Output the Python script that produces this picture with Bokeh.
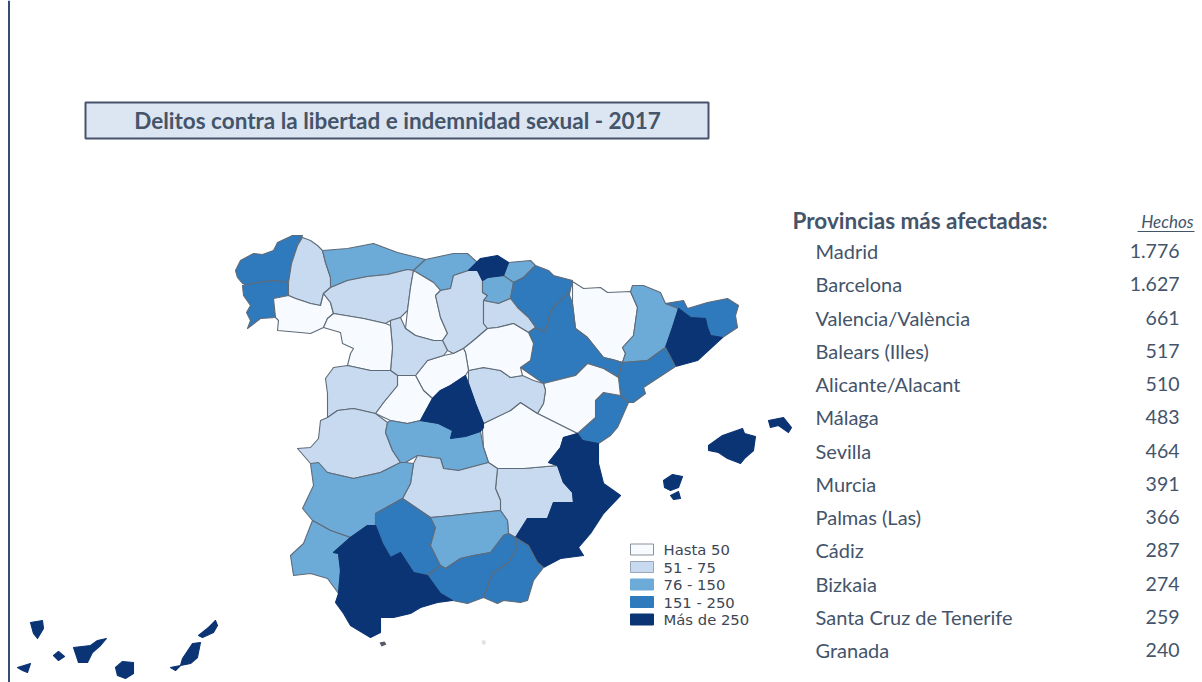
from bokeh.core.properties import value
from bokeh.embed import file_html
from bokeh.models import ColumnDataSource, Range1d
from bokeh.plotting import figure
from bokeh.resources import INLINE

TITLE = "Delitos contra la libertad e indemnidad sexual - 2017"
TABLE_HEAD = "Provincias más afectadas:"
VALUE_HEAD = "Hechos"
table_names = ["Madrid", "Barcelona", "Valencia/València", "Balears (Illes)", "Alicante/Alacant", "Málaga", "Sevilla",
               "Murcia", "Palmas (Las)", "Cádiz", "Bizkaia", "Santa Cruz de Tenerife", "Granada"]
table_values = ["1.776", "1.627", "661", "517", "510", "483", "464", "391", "366", "287", "274", "259", "240"]
legend_labels = ["Hasta 50", "51 - 75", "76 - 150", "151 - 250", "Más de 250"]
class_colors = ["#f7fbff", "#c8daef", "#6caad8", "#2f79bd", "#0b3474"]

# Province outlines in map units
A_CORUNA = [(235,270),(240,260),(253,253),(262,254),(273,250),(277,242),(292,235),(302,235),(297,245),(291,263),(288,282),(273,280),(257,282),(247,285),(242,283),(237,277)]
PONTEVEDRA = [(242,285),(257,282),(273,280),(288,282),(288,295),(273,298),(275,317),(260,318),(247,328),(250,320),(246,312),(250,305),(243,295)]
LUGO = [(302,237),(310,240),(317,245),(322,250),(325,262),(330,277),(330,287),(323,293),(320,305),(310,303),(295,298),(288,295),(288,282),(291,263),(297,245)]
OURENSE = [(273,298),(288,295),(295,298),(310,303),(320,305),(323,293),(330,302),(333,313),(327,318),(323,327),(310,333),(300,332),(277,330),(278,320),(275,317)]
ASTURIAS = [(322,250),(347,248),(373,243),(397,252),(425,259),(413,270),(407,269),(387,274),(367,276),(347,280),(330,287),(330,277),(325,262)]
CANTABRIA = [(425,259),(453,253),(467,253),(477,262),(468,270),(453,275),(450,288),(440,290),(433,282),(413,270)]
LEON = [(330,287),(347,280),(367,276),(387,274),(407,269),(413,270),(410,287),(407,310),(400,317),(390,320),(385,323),(363,318),(333,313),(330,302),(323,293)]
PALENCIA = [(413,270),(433,282),(440,290),(435,295),(440,317),(447,333),(442,340),(433,340),(415,335),(405,328),(407,310),(410,287)]
BURGOS = [(440,290),(450,288),(453,275),(468,270),(477,270),(482,280),(482,292),(487,295),(483,300),(483,323),(487,328),(473,340),(463,348),(453,353),(447,350),(442,340),(447,333),(440,317),(435,295)]
BIZKAIA = [(468,270),(480,258),(497,255),(508,262),(503,275),(487,277),(482,280),(477,270)]
GIPUZKOA = [(508,262),(530,260),(535,265),(523,277),(513,282),(503,275)]
ALAVA = [(482,280),(487,277),(503,275),(513,282),(510,298),(498,303),(483,300),(487,295),(482,292)]
NAVARRA = [(535,265),(548,270),(553,275),(572,280),(568,298),(550,310),(545,332),(535,327),(528,317),(517,307),(510,298),(513,282),(523,277)]
LA_RIOJA = [(483,300),(498,303),(510,298),(517,307),(528,317),(535,327),(528,332),(513,323),(497,327),(487,328),(483,323)]
ZARAGOZA = [(568,292),(572,303),(575,328),(587,337),(603,357),(612,359),(622,362),(618,377),(603,368),(587,363),(575,375),(543,383),(520,367),(530,360),(533,343),(528,332),(535,327),(545,332),(550,310)]
HUESCA = [(572,281),(583,288),(600,287),(607,292),(630,291),(637,307),(633,335),(622,347),(625,353),(622,362),(612,359),(603,357),(587,337),(575,328),(572,303)]
LLEIDA = [(632,285),(643,285),(660,292),(665,303),(678,308),(672,327),(665,347),(647,360),(622,362),(625,353),(622,347),(633,335),(637,307),(630,291)]
GIRONA = [(665,303),(683,300),(687,308),(707,302),(727,298),(738,305),(735,315),(737,327),(722,337),(710,335),(707,327),(705,318),(690,317),(678,308)]
BARCELONA = [(678,308),(690,317),(705,318),(707,327),(710,335),(722,337),(697,360),(675,366),(665,347),(672,327)]
TARRAGONA = [(665,347),(675,366),(643,387),(645,393),(633,402),(628,402),(620,395),(618,377),(622,362),(647,360)]
CASTELLON = [(603,392),(620,395),(628,402),(617,427),(610,435),(598,443),(582,440),(577,433),(595,417),(595,400)]
TERUEL = [(543,383),(575,375),(587,363),(603,368),(618,377),(620,395),(603,392),(595,400),(595,417),(577,433),(557,423),(537,413),(543,403),(545,390)]
VALENCIA = [(577,433),(582,440),(598,443),(598,463),(603,483),(613,490),(590,497),(573,502),(572,492),(563,482),(557,465),(548,462),(560,447),(563,437)]
ALICANTE = [(613,490),(620,495),(603,513),(590,533),(578,547),(570,530),(568,513),(573,502),(590,497)]
MURCIA = [(573,502),(568,513),(570,530),(578,547),(583,555),(560,558),(543,567),(537,562),(528,545),(515,537),(527,518),(547,518),(553,502)]
ALBACETE = [(497,468),(523,468),(557,465),(563,482),(572,492),(573,502),(553,502),(547,518),(527,518),(515,537),(508,533),(507,520),(500,510),(500,500),(495,488)]
CUENCA = [(482,430),(483,423),(510,410),(520,402),(537,413),(557,423),(577,433),(563,437),(560,447),(548,462),(557,465),(523,468),(497,468),(488,462),(483,447)]
GUADALAJARA = [(468,370),(483,367),(500,370),(510,377),(522,375),(533,380),(543,383),(545,390),(543,403),(537,413),(520,402),(510,410),(483,423),(475,403),(468,383)]
SORIA = [(465,352),(463,348),(473,340),(487,328),(497,327),(513,323),(528,332),(533,343),(530,360),(520,367),(522,375),(510,377),(500,370),(483,367),(468,370)]
SEGOVIA = [(415,375),(427,360),(443,355),(453,353),(463,348),(465,352),(468,370),(465,375),(450,385),(440,390),(432,398),(423,390)]
MADRID = [(465,375),(468,383),(475,403),(483,423),(483,427),(480,431),(465,436),(450,438),(452,430),(438,423),(420,420),(432,398),(440,390),(450,385)]
AVILA = [(397,375),(415,375),(423,390),(432,398),(420,420),(407,423),(390,420),(375,413),(383,402),(397,385)]
VALLADOLID = [(390,320),(400,317),(405,328),(415,335),(433,340),(442,340),(447,350),(443,355),(427,360),(415,375),(397,375),(390,370),(392,347),(390,325)]
ZAMORA = [(327,318),(333,313),(363,318),(385,323),(390,325),(392,347),(390,370),(370,370),(347,365),(350,353),(353,348),(342,343),(340,332),(323,327)]
SALAMANCA = [(333,367),(347,365),(370,370),(390,370),(397,375),(397,385),(383,402),(375,413),(353,408),(337,410),(327,417),(327,393),(325,378)]
CACERES = [(320,420),(327,417),(337,410),(353,408),(375,413),(387,422),(385,432),(392,450),(400,462),(380,472),(353,478),(327,472),(310,463),(297,448),(310,447),(318,438)]
TOLEDO = [(387,422),(390,420),(407,423),(420,420),(438,423),(452,430),(480,431),(483,447),(488,462),(458,470),(443,468),(440,458),(417,455),(405,462),(400,462),(392,450),(385,432)]
CIUDAD_REAL = [(413,463),(417,455),(440,458),(443,468),(458,470),(488,462),(497,468),(495,488),(500,500),(500,510),(470,513),(452,515),(430,517),(402,498),(410,483)]
BADAJOZ = [(310,463),(318,462),(327,472),(353,478),(380,472),(400,462),(405,462),(413,463),(410,483),(402,498),(375,513),(375,525),(367,525),(350,537),(330,530),(312,520),(302,508),(313,485)]
CORDOBA = [(402,498),(430,517),(435,527),(430,545),(440,565),(427,575),(413,572),(400,552),(390,557),(382,543),(375,525),(375,513)]
JAEN = [(430,517),(452,515),(470,513),(500,510),(507,520),(508,533),(503,535),(490,552),(473,555),(460,558),(445,568),(440,565),(430,545),(435,527)]
GRANADA = [(503,535),(508,533),(515,537),(517,547),(508,562),(492,573),(483,597),(467,603),(452,600),(440,593),(427,575),(440,565),(445,568),(460,558),(473,555),(490,552)]
ALMERIA = [(517,547),(515,537),(528,545),(537,562),(543,567),(533,580),(527,600),(520,602),(503,600),(497,603),(483,597),(492,573),(508,562)]
MALAGA = [(427,575),(440,593),(452,600),(437,602),(420,607),(410,613),(393,617),(380,617),(383,603),(387,587),(407,580),(413,572)]
SEVILLA = [(367,525),(375,525),(382,543),(390,557),(400,552),(413,572),(407,580),(387,587),(360,590),(338,593),(340,570),(338,553),(333,552),(350,537)]
CADIZ = [(338,593),(360,590),(387,587),(383,603),(380,617),(380,632),(370,637),(350,625),(343,613),(335,602)]
HUELVA = [(312,520),(330,530),(350,537),(333,552),(338,553),(340,570),(338,593),(327,578),(310,573),(293,575),(290,555),(303,543)]
MENORCA = [(768,420),(783,417),(791,427),(788,432),(778,425),(770,427)]
MALLORCA = [(708,445),(722,435),(742,428),(744,433),(755,436),(753,450),(745,457),(740,463),(727,458),(718,452),(708,450)]
IBIZA = [(663,480),(672,474),(682,476),(678,487),(670,490),(664,487)]
FORMENTERA = [(670,495),(678,491),(680,498),(673,499)]
LA_PALMA = [(30,622),(42,620),(43,628),(37,638),(33,633)]
EL_HIERRO = [(17,667),(30,663),(27,672),(22,670)]
LA_GOMERA = [(53,655),(58,651),(64,656),(58,660)]
TENERIFE = [(73,647),(90,645),(97,640),(106,638),(100,645),(92,652),(87,662),(78,662)]
GRAN_CANARIA = [(115,667),(122,661),(133,662),(133,673),(125,678),(117,675)]
FUERTEVENTURA = [(170,667),(180,665),(182,658),(192,643),(200,642),(197,657),(190,663),(180,665),(175,670)]
LANZAROTE = [(198,635),(208,627),(215,620),(217,625),(213,632),(202,637)]
CEUTA = [(379,642),(384,641),(386,644),(381,646)]
MELILLA = [(481,640),(485,640),(485,644),(482,644)]

# province outline, class index (0 = Hasta 50 ... 4 = Más de 250)
provinces = [
    (A_CORUNA, 3), (PONTEVEDRA, 3), (LUGO, 1), (OURENSE, 0), (ASTURIAS, 2), (CANTABRIA, 2), (LEON, 1), (PALENCIA, 0),
    (BURGOS, 1), (GIPUZKOA, 2), (ALAVA, 2), (BIZKAIA, 4), (NAVARRA, 3), (LA_RIOJA, 1), (HUESCA, 0), (ZARAGOZA, 3),
    (LLEIDA, 2), (GIRONA, 3), (BARCELONA, 4), (TARRAGONA, 3), (CASTELLON, 3), (TERUEL, 0), (ALBACETE, 1), (CUENCA, 0),
    (VALENCIA, 4), (ALICANTE, 4), (MURCIA, 4), (GUADALAJARA, 1), (SORIA, 0), (SEGOVIA, 0), (AVILA, 0), (VALLADOLID, 1),
    (ZAMORA, 0), (SALAMANCA, 1), (CACERES, 1), (TOLEDO, 2), (MADRID, 4), (CIUDAD_REAL, 1), (BADAJOZ, 2), (CORDOBA, 3),
    (JAEN, 2), (GRANADA, 3), (ALMERIA, 3), (HUELVA, 2), (SEVILLA, 4), (MALAGA, 4), (CADIZ, 4), (MENORCA, 4), (MALLORCA, 4),
    (IBIZA, 4), (FORMENTERA, 4), (LA_PALMA, 4), (EL_HIERRO, 4), (LA_GOMERA, 4), (TENERIFE, 4), (GRAN_CANARIA, 4),
    (FUERTEVENTURA, 4), (LANZAROTE, 4),
]

INK = "#44546a"
TEXT_FONT = value("Lato")

p = figure(width=1202, height=682, x_range=Range1d(0, 1202), y_range=Range1d(682, 0),
           output_backend="svg", toolbar_location=None, min_border=0, outline_line_color=None,
           background_fill_color="white", border_fill_color="white")
p.axis.visible = False
p.grid.visible = False

# page rule at the left
p.segment(x0=[8.5], y0=[0], x1=[8.5], y1=[682], line_color="#1f3864", line_width=1.8)

# title box
p.quad(left=[85], right=[708], top=[102], bottom=[138], fill_color="#dce6f2", line_color="#46536a", line_width=2)
p.text(x=[397], y=[120], text=[TITLE], text_font=TEXT_FONT, text_font_style="bold", text_font_size="22.5px",
       text_color=INK, text_align="center", text_baseline="middle")

# map
map_src = ColumnDataSource(dict(
    xs=[[pt[0] for pt in outline] for outline, _ in provinces],
    ys=[[pt[1] for pt in outline] for outline, _ in provinces],
    fill=[class_colors[c] for _, c in provinces],
    edge=["#0b3474" if c == 4 else "#5f6b78" for _, c in provinces],
))
p.patches("xs", "ys", source=map_src, fill_color="fill", line_color="edge", line_width=1.1, line_join="round")
p.patches([[pt[0] for pt in CEUTA], [pt[0] for pt in MELILLA]], [[pt[1] for pt in CEUTA], [pt[1] for pt in MELILLA]],
          fill_color=["#555b66", "#dddfe3"], line_color=None)

# legend
legend_tops = [543.5, 561, 578.5, 596, 613.5]
legend_h = 11
p.quad(left=[630] * 5, right=[653] * 5, top=legend_tops, bottom=[t + legend_h for t in legend_tops],
       fill_color=class_colors, line_color=["#8a919c", "#9aa6b5", "#6caad8", "#2f79bd", "#0b3474"], line_width=1)
p.text(x=[663] * 5, y=[t + legend_h / 2 for t in legend_tops], text=legend_labels, text_font=value("DejaVu Sans"),
       text_font_size="14.8px", text_color="#3d4652", text_baseline="middle")

# table
row_y = [250.5 + 33.25 * i for i in range(len(table_names))]
p.text(x=[792], y=[219.5], text=[TABLE_HEAD], text_font=TEXT_FONT, text_font_style="bold", text_font_size="22.5px",
       text_color=INK, text_baseline="middle")
p.text(x=[1193], y=[221], text=[VALUE_HEAD], text_font=TEXT_FONT, text_font_style="italic", text_font_size="17px",
       text_color=INK, text_align="right", text_baseline="middle")
p.segment(x0=[1137], y0=[231], x1=[1194], y1=[231], line_color=INK, line_width=1)
p.text(x=[815] * len(table_names), y=row_y, text=table_names, text_font=TEXT_FONT, text_font_size="20px",
       text_color=INK, text_baseline="middle")
p.text(x=[1179] * len(table_names), y=row_y, text=table_values, text_font=TEXT_FONT, text_font_size="19.5px",
       text_color=INK, text_align="right", text_baseline="middle")

open("out.html", "w").write(file_html(p, INLINE))
